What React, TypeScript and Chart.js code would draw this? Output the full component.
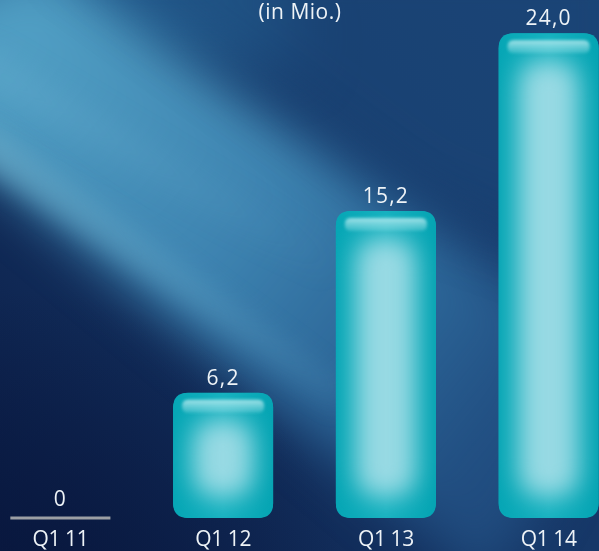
import React, { useEffect, useRef } from "react";
import { Chart, registerables } from "chart.js";

Chart.register(...registerables);

const categories = ["Q1 11", "Q1 12", "Q1 13", "Q1 14"];
const values = [0, 6.2, 15.2, 24.0];
const valueLabels = ["0", "6,2", "15,2", "24,0"];
const unitLabel = "(in Mio.)";

const OFF = 21; // canvas is shifted left so that category slots match the reference
const CW = 651;
const CH = 551;
const FONT = '"Open Sans", "Noto Sans", sans-serif';

function rr(ctx: CanvasRenderingContext2D, x: number, y: number, w: number, h: number, r: number) {
  const rad = Math.max(0, Math.min(r, w / 2, h / 2));
  ctx.beginPath();
  ctx.moveTo(x + rad, y);
  ctx.lineTo(x + w - rad, y);
  ctx.quadraticCurveTo(x + w, y, x + w, y + rad);
  ctx.lineTo(x + w, y + h - rad);
  ctx.quadraticCurveTo(x + w, y + h, x + w - rad, y + h);
  ctx.lineTo(x + rad, y + h);
  ctx.quadraticCurveTo(x, y + h, x, y + h - rad);
  ctx.lineTo(x, y + rad);
  ctx.quadraticCurveTo(x, y, x + rad, y);
  ctx.closePath();
}

function poly(ctx: CanvasRenderingContext2D, pts: number[][]) {
  ctx.beginPath();
  pts.forEach((p, i) => (i ? ctx.lineTo(p[0], p[1]) : ctx.moveTo(p[0], p[1])));
  ctx.closePath();
  ctx.fill();
}

const backgroundPlugin = {
  id: "bgPaint",
  beforeDraw(chart: any) {
    const ctx: CanvasRenderingContext2D = chart.ctx;
    ctx.save();
    ctx.translate(OFF, 0);
    // base: dark navy, darker bottom-left
    const g = ctx.createLinearGradient(600, 0, 0, 551);
    g.addColorStop(0, "#1a3f72");
    g.addColorStop(0.5, "#163767");
    g.addColorStop(1, "#0a1b44");
    ctx.fillStyle = g;
    ctx.fillRect(-OFF, 0, CW, CH);

    // medium blue top-left area
    ctx.filter = "blur(30px)";
    ctx.fillStyle = "rgba(38,96,146,0.9)";
    poly(ctx, [[-80, -80], [260, -80], [300, 60], [-80, 60]]);

    // broad light band
    ctx.filter = "blur(26px)";
    const lb = ctx.createLinearGradient(0, 80, 480, 470);
    lb.addColorStop(0, "rgba(80,158,195,1)");
    lb.addColorStop(0.45, "rgba(62,132,177,1)");
    lb.addColorStop(0.75, "rgba(48,110,160,0.85)");
    lb.addColorStop(1, "rgba(40,92,145,0.6)");
    ctx.fillStyle = lb;
    poly(ctx, [[-80, 10], [40, -40], [540, 300], [560, 460], [490, 590], [300, 425], [0, 175], [-80, 120]]);

    // upper part fades to navy towards the top-right
    ctx.filter = "blur(30px)";
    ctx.fillStyle = "rgba(28,72,122,0.55)";
    poly(ctx, [[60, -60], [640, -60], [640, 280], [420, 200]]);

    // bright streak near the lower edge
    ctx.filter = "blur(11px)";
    const sb = ctx.createLinearGradient(0, 150, 340, 400);
    sb.addColorStop(0, "rgba(125,195,220,0.45)");
    sb.addColorStop(1, "rgba(100,170,205,0.1)");
    ctx.fillStyle = sb;
    poly(ctx, [[-20, 118], [340, 378], [340, 414], [-20, 165]]);

    // second, softer streak higher up
    ctx.filter = "blur(14px)";
    const s2 = ctx.createLinearGradient(0, 40, 320, 240);
    s2.addColorStop(0, "rgba(110,180,212,0.3)");
    s2.addColorStop(1, "rgba(110,180,212,0.03)");
    ctx.fillStyle = s2;
    poly(ctx, [[-20, 45], [330, 250], [330, 280], [-20, 80]]);

    // keep bottom-left corner dark
    ctx.filter = "none";
    const rd = ctx.createRadialGradient(30, 610, 10, 30, 610, 320);
    rd.addColorStop(0, "rgba(8,22,60,0.8)");
    rd.addColorStop(1, "rgba(8,22,60,0)");
    ctx.fillStyle = rd;
    ctx.fillRect(-OFF, 0, CW, CH);

    ctx.restore();
  },
};

const barFxPlugin = {
  id: "barFx",
  afterDatasetsDraw(chart: any) {
    const ctx: CanvasRenderingContext2D = chart.ctx;
    const meta = chart.getDatasetMeta(0);
    const ds = chart.data.datasets[0].data as number[];
    meta.data.forEach((el: any, i: number) => {
      const { x, y, base, width } = el.getProps(["x", "y", "base", "width"], true);
      const left = x - width / 2;
      if (!ds[i]) {
        ctx.save();
        ctx.strokeStyle = "#9c9fa4";
        ctx.lineWidth = 3;
        ctx.beginPath();
        ctx.moveTo(left, base);
        ctx.lineTo(left + width, base);
        ctx.stroke();
        ctx.restore();
        return;
      }
      const top = Math.min(y, base);
      const h = Math.abs(base - y);
      ctx.save();
      rr(ctx, left, top, width, h, 15);
      ctx.clip();
      const hg = ctx.createLinearGradient(left, 0, left + width, 0);
      hg.addColorStop(0, "#06a6b5");
      hg.addColorStop(0.5, "#16b2c0");
      hg.addColorStop(1, "#05a4b3");
      ctx.fillStyle = hg;
      ctx.fillRect(left, top, width, h);
      // inner glow
      ctx.filter = "blur(12px)";
      ctx.fillStyle = "rgba(170,223,232,0.88)";
      const inset = 20;
      rr(ctx, left + inset, top + 27, width - inset * 2, Math.max(10, h - 48), 26);
      ctx.fill();
      // top highlight
      ctx.filter = "blur(1.5px)";
      const tg = ctx.createLinearGradient(0, top + 7, 0, top + 20);
      tg.addColorStop(0, "rgba(210,245,248,0.75)");
      tg.addColorStop(1, "rgba(190,240,245,0.2)");
      ctx.fillStyle = tg;
      rr(ctx, left + 9, top + 7, width - 18, 13, 6);
      ctx.fill();
      ctx.restore();
    });

    // labels
    ctx.save();
    ctx.fillStyle = "#eef3f7";
    ctx.textAlign = "center";
    ctx.textBaseline = "alphabetic";
    ctx.font = `21px ${FONT}`;
    (ctx as any).letterSpacing = "1.2px";
    meta.data.forEach((el: any, i: number) => {
      const { x, y, base } = el.getProps(["x", "y", "base"], true);
      const top = Math.min(y, base);
      ctx.fillText(valueLabels[i], x, top - (ds[i] ? 8 : 12));
    });
    (ctx as any).letterSpacing = "-0.4px";
    meta.data.forEach((el: any, i: number) => {
      const { x } = el.getProps(["x"], true);
      ctx.fillText(categories[i], x, 546);
    });
    (ctx as any).letterSpacing = "0.5px";
    ctx.fillText(unitLabel, 300 + OFF, 19);
    ctx.restore();
  },
};

export default function App() {
  const ref = useRef<HTMLCanvasElement | null>(null);
  useEffect(() => {
    if (!ref.current) return;
    const chart = new Chart(ref.current, {
      type: "bar",
      data: {
        labels: categories,
        datasets: [
          {
            data: values,
            backgroundColor: values.map((v) => (v ? "#0aabb9" : "rgba(0,0,0,0)")),
            borderWidth: 0,
            borderRadius: 15,
            borderSkipped: false,
            barPercentage: 0.615,
            categoryPercentage: 1,
          },
        ],
      },
      options: {
        responsive: false,
        animation: false,
        devicePixelRatio: 1,
        layout: { padding: { top: 13, bottom: 33, left: 0, right: 0 } },
        plugins: { legend: { display: false }, tooltip: { enabled: false }, title: { display: false } },
        scales: {
          x: { display: false, offset: true },
          y: { display: false, min: 0, max: 25 },
        },
      },
      plugins: [backgroundPlugin, barFxPlugin],
    });
    return () => chart.destroy();
  }, []);
  return (
    <div style={{ position: "fixed", left: 0, top: 0, width: 599, height: 551, overflow: "hidden", background: "#163a6e" }}>
      <canvas ref={ref} width={CW} height={CH} style={{ position: "absolute", left: -OFF, top: 0, width: CW, height: CH }} />
    </div>
  );
}
